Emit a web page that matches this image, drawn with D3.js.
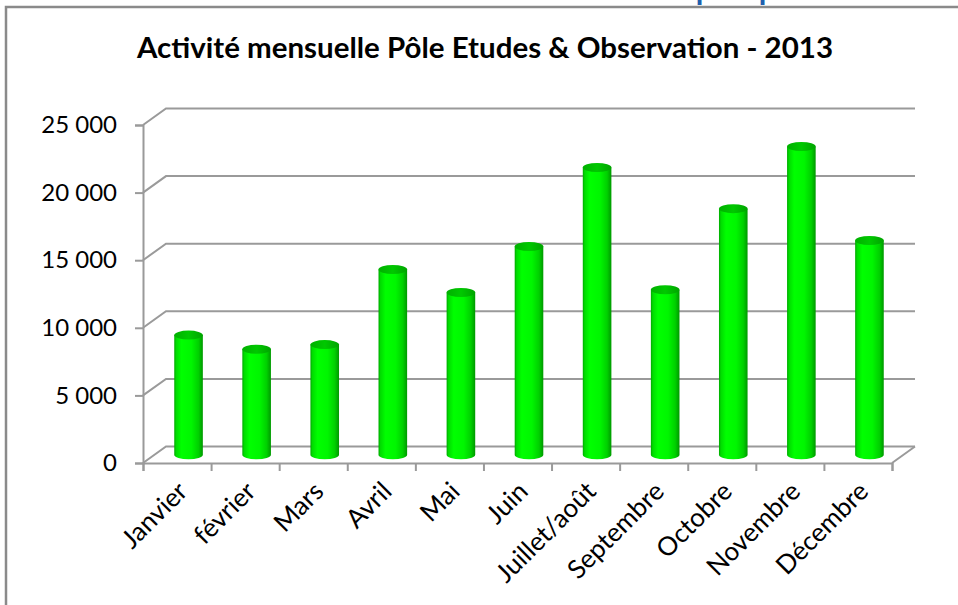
<!DOCTYPE html>
<html>
<head>
<meta charset="utf-8">
<script src="https://cdn.jsdelivr.net/npm/d3@7"></script>
<style>
  body { margin: 0; background: #fff; }
  svg { display: block; }
</style>
</head>
<body>
<div class="chart3d"></div>
<script>
var months = ["Janvier","février","Mars","Avril","Mai","Juin","Juillet/août","Septembre","Octobre","Novembre","Décembre"];
var activite = [8850, 7800, 8150, 13700, 12000, 15400, 21250, 12200, 18200, 22800, 15850];
var yTicks = [0, 5000, 10000, 15000, 20000, 25000];
var titre = "Activité mensuelle Pôle Etudes & Observation - 2013";

var W = 958, H = 605;
var plotL = 143, plotR = 892, plotB = 463, plotT = 125;
var depthX = 23, depthY = -16.5; // back wall offset

var svg = d3.select(".chart3d").append("svg")
    .attr("width", W).attr("height", H);

var defs = svg.append("defs");
var gBody = defs.append("linearGradient").attr("id", "cylBody")
    .attr("x1", 0).attr("x2", 1).attr("y1", 0).attr("y2", 0);
[[0,"#00a800"],[0.07,"#00dc00"],[0.25,"#00ff00"],[0.6,"#00f600"],[0.85,"#00d000"],[1,"#009800"]]
  .forEach(function(s){ gBody.append("stop").attr("offset", s[0]).attr("stop-color", s[1]); });
var gTop = defs.append("linearGradient").attr("id", "cylTop")
    .attr("x1", 0).attr("x2", 1).attr("y1", 0).attr("y2", 0);
[[0,"#00b000"],[0.5,"#00c800"],[1,"#00a400"]]
  .forEach(function(s){ gTop.append("stop").attr("offset", s[0]).attr("stop-color", s[1]); });

// frame of the chart area (runs off the right and bottom edges)
svg.append("rect")
    .attr("x", 6).attr("y", 7)
    .attr("width", W + 20).attr("height", H + 20)
    .attr("fill", "#fff").attr("stroke", "#8a8a8a").attr("stroke-width", 2.5);

// cropped blue header text above the frame (only descenders show)
svg.append("text")
    .attr("y", 0)
    .attr("fill", "#1f5fae")
    .style("font-family", "Lato, sans-serif").style("font-weight", "900").style("font-size", "28px")
    .selectAll("tspan").data(["p","p"]).enter().append("tspan")
    .attr("x", function(d,i){ return [696, 759][i]; })
    .text(function(d){ return d; });

svg.append("text")
    .attr("x", 485).attr("y", 58)
    .attr("text-anchor", "middle")
    .attr("textLength", 696).attr("lengthAdjust", "spacingAndGlyphs")
    .style("font-family", "Lato, sans-serif").style("font-weight", "bold").style("font-size", "28px")
    .attr("fill", "#000")
    .text(titre);

var yScale = d3.scaleLinear().domain([0, 25000]).range([plotB, plotT]);
var xScale = d3.scaleBand().domain(months).range([plotL, plotR]).padding(0);
var xEdges = d3.scaleLinear().domain([0, months.length]).range([plotL, plotR]);

var fr = d3.formatLocale({decimal: ",", thousands: " ", grouping: [3], currency: ["", " €"]});
var fmt = fr.format(",d");

var gridColor = "#9a9a9a";

// side wall + back wall gridlines
svg.append("g").selectAll("path").data(yTicks).enter().append("path")
    .attr("fill", "none").attr("stroke", gridColor).attr("stroke-width", 2)
    .attr("d", function(d){
        var y = yScale(d);
        return "M" + plotL + "," + y + "L" + (plotL + depthX) + "," + (y + depthY) + "L" + (plotR + depthX) + "," + (y + depthY);
    });

// floor right edge
svg.append("path")
    .attr("fill", "none").attr("stroke", gridColor).attr("stroke-width", 2)
    .attr("d", "M" + plotR + "," + yScale(0) + "L" + (plotR + depthX) + "," + (yScale(0) + depthY));

// y axis
var yAxis = d3.axisLeft(yScale).tickValues(yTicks).tickSize(8).tickPadding(18).tickFormat(fmt);
svg.append("g")
    .attr("transform", "translate(" + plotL + ",0)")
    .call(yAxis)
    .call(function(g){
        g.select(".domain").attr("stroke", gridColor).attr("stroke-width", 2);
        g.selectAll(".tick line").attr("stroke", gridColor).attr("stroke-width", 2);
        g.selectAll("text").attr("fill", "#000")
          .style("font-family", "Lato, sans-serif").style("font-size", "24px");
    });

// x axis (ticks on category boundaries)
var xAxis = d3.axisBottom(xEdges).tickValues(d3.range(months.length + 1)).tickSize(8).tickFormat("");
svg.append("g")
    .attr("transform", "translate(0," + plotB + ")")
    .call(xAxis)
    .call(function(g){
        g.select(".domain").attr("stroke", gridColor).attr("stroke-width", 2);
        g.selectAll(".tick line").attr("stroke", gridColor).attr("stroke-width", 2);
    });

// cylinders
var bw = xScale.bandwidth();
var rx = bw * 0.21, ry = 4.5;
var bars = svg.append("g").selectAll("g").data(activite).enter().append("g");

bars.append("path")
    .attr("fill", "url(#cylBody)")
    .attr("d", function(d, i){
        var cx = xScale(months[i]) + bw / 2 + depthX / 2;
        var yb = yScale(0) + depthY / 2;
        var yt = yScale(d) + depthY / 2;
        return "M" + (cx - rx) + "," + yt +
               "L" + (cx - rx) + "," + yb +
               "A" + rx + "," + ry + " 0 0 0 " + (cx + rx) + "," + yb +
               "L" + (cx + rx) + "," + yt + "Z";
    });

bars.append("ellipse")
    .attr("fill", "url(#cylTop)")
    .attr("cx", function(d, i){ return xScale(months[i]) + bw / 2 + depthX / 2; })
    .attr("cy", function(d){ return yScale(d) + depthY / 2; })
    .attr("rx", rx).attr("ry", ry);

// month labels
svg.append("g").selectAll("text").data(months).enter().append("text")
    .attr("transform", function(d){
        var x = xScale(d) + bw / 2 + 12;
        return "translate(" + x + "," + 493 + ") rotate(-45)";
    })
    .attr("text-anchor", "end")
    .attr("fill", "#000")
    .style("font-family", "Lato, sans-serif").style("font-size", "26px")
    .text(function(d){ return d; });
</script>
</body>
</html>
